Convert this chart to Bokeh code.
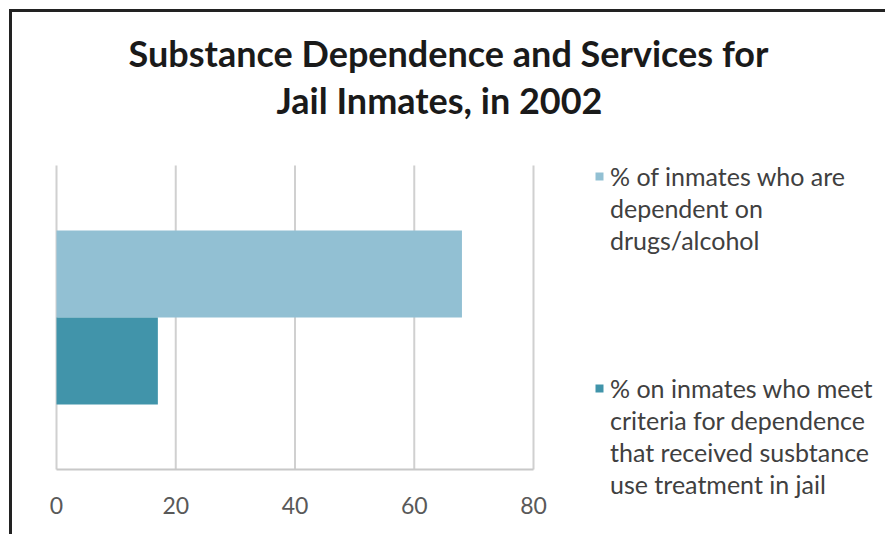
from bokeh.plotting import figure
from bokeh.models import Range1d, FixedTicker, Legend, LegendItem, Label, ColumnDataSource
from bokeh.embed import file_html
from bokeh.resources import INLINE

title_lines = ["Substance Dependence and Services for", "Jail Inmates, in 2002"]
series_labels = [
    ["% of inmates who are", "dependent on", "drugs/alcohol"],
    ["% on inmates who meet", "criteria for dependence", "that received susbtance", "use treatment in jail"],
]
series_values = [68, 17]
x_ticks = [0, 20, 40, 60, 80]
colors = ["#92C0D3", "#4194AA"]

# ---- layout geometry (pixels) ----
W, H = 885, 534
FRAME_L, FRAME_T, FRAME_R, FRAME_B = 12, 12, 879, 528   # plotting frame edges
X0_PX, X80_PX = 56, 533          # where 0 and 80 sit
AXIS_PX, GRID_TOP_PX = 469, 165  # axis line and top of grid lines
ppu = (X80_PX - X0_PX) / 80.0
x_start = -(X0_PX - FRAME_L) / ppu
x_end = 80 + (FRAME_R - X80_PX) / ppu
ppy = AXIS_PX - GRID_TOP_PX
y_start = -(FRAME_B - AXIS_PX) / ppy
y_end = (AXIS_PX - FRAME_T) / ppy

bar_h = 0.286
bar_y = [0.5 + bar_h / 2 * (1 - 2 * i) for i in range(len(series_values))]

p = figure(width=W, height=H, x_range=Range1d(x_start, x_end), y_range=Range1d(y_start, y_end),
           output_backend="svg", toolbar_location=None,
           min_border_left=FRAME_L, min_border_top=FRAME_T,
           min_border_right=W - FRAME_R, min_border_bottom=H - FRAME_B)
# chart frame: a dark line on the top and on the left only
p.styles = {
    "background": ("linear-gradient(#222222, #222222) 9px 9px / 3px 100% no-repeat, "
                   "linear-gradient(#222222, #222222) 9px 9px / 100% 3px no-repeat, #ffffff"),
}
p.outline_line_color = None
p.background_fill_color = None
p.border_fill_color = None
p.xgrid.visible = False
p.ygrid.visible = False
p.yaxis.visible = False

# grid lines at tick positions
p.segment(x0=x_ticks, y0=[0] * len(x_ticks), x1=x_ticks, y1=[1] * len(x_ticks),
          line_color="#D0D0D0", line_width=2)

renderers = []
for i in range(len(series_values)):
    src = ColumnDataSource(dict(y=[bar_y[i]], right=[series_values[i]]))
    r = p.hbar(y="y", left=0, right="right", height=bar_h, source=src,
               fill_color=colors[i], line_color=None)
    renderers.append(r)

ax = p.xaxis[0]
ax.fixed_location = 0
ax.bounds = (0, 80)
ax.ticker = FixedTicker(ticks=x_ticks)
ax.major_tick_out = 0
ax.major_tick_in = 0
ax.minor_tick_out = 0
ax.minor_tick_in = 0
ax.axis_line_color = "#C8C8C8"
ax.axis_line_width = 2
ax.major_label_text_font = "Lato"
ax.major_label_text_font_size = "23px"
ax.major_label_text_color = "#595959"
ax.major_label_standoff = 27

# one legend block per series, first line carries the swatch
LINE_H = 32
legend_tops = [160, 372]
for i in range(len(series_values)):
    items = [LegendItem(label=txt, renderers=[renderers[i]] if j == 0 else [])
             for j, txt in enumerate(series_labels[i])]
    bottom = legend_tops[i] + LINE_H * len(items)
    lg = Legend(items=items, location=(594 - FRAME_L, FRAME_B - bottom), padding=0, margin=0, spacing=0,
                border_line_color=None, background_fill_alpha=0,
                glyph_width=10, glyph_height=10, label_standoff=6, label_height=LINE_H,
                label_text_font="Lato", label_text_font_size="25px",
                label_text_color="#404040")
    p.add_layout(lg, "center")

for txt, cx, cy in zip(title_lines, [448, 439], [52, 99]):
    p.add_layout(Label(x=cx - FRAME_L, y=FRAME_B - cy, x_units="screen", y_units="screen", text=txt,
                       text_align="center", text_baseline="middle", text_font="Lato",
                       text_font_size="36px", text_font_style="bold", text_color="#1A1A1A"))

open("out.html", "w").write(file_html(p, INLINE))
